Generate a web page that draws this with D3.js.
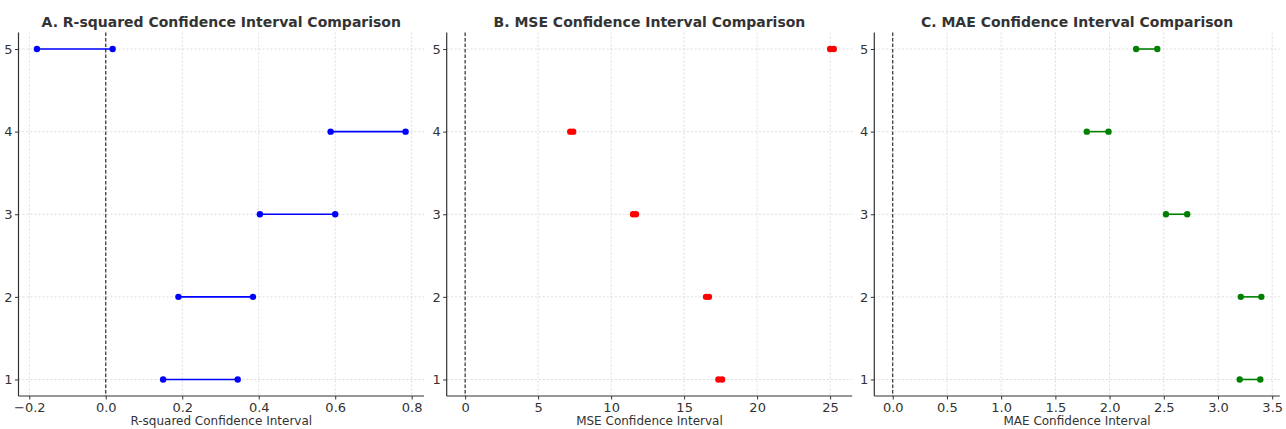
<!DOCTYPE html>
<html>
<head>
<meta charset="utf-8">
<script src="https://cdn.jsdelivr.net/npm/d3@7"></script>
<style>
  body { margin: 0; background: #fff; }
  svg { display: block; font-family: "DejaVu Sans", sans-serif; }
</style>
</head>
<body>
<svg id="chart" width="1286" height="429"></svg>
<script>
// Models on the y axis
const models = [1, 2, 3, 4, 5];

// Confidence interval bounds, one value per model (1..5)
const r2Lower = [0.15, 0.19, 0.403, 0.588, -0.18];
const r2Upper = [0.345, 0.385, 0.60, 0.784, 0.018];
const mseLower = [17.35, 16.5, 11.5, 7.2, 25.0];
const mseUpper = [17.6, 16.7, 11.7, 7.4, 25.25];
const maeLower = [3.2, 3.21, 2.52, 1.79, 2.245];
const maeUpper = [3.39, 3.40, 2.716, 1.99, 2.44];

// Tick values
const r2Ticks = [-0.2, 0.0, 0.2, 0.4, 0.6, 0.8];
const mseTicks = [0, 5, 10, 15, 20, 25];
const maeTicks = [0.0, 0.5, 1.0, 1.5, 2.0, 2.5, 3.0, 3.5];

const panels = [
  { title: 'A. R-squared Confidence Interval Comparison', xlabel: 'R-squared Confidence Interval',
    lo: r2Lower, hi: r2Upper, ticks: r2Ticks, fmt: d3.format('.1f'), color: 'blue', left: 18.5 },
  { title: 'B. MSE Confidence Interval Comparison', xlabel: 'MSE Confidence Interval',
    lo: mseLower, hi: mseUpper, ticks: mseTicks, fmt: d3.format('d'), color: 'red', left: 446.7 },
  { title: 'C. MAE Confidence Interval Comparison', xlabel: 'MAE Confidence Interval',
    lo: maeLower, hi: maeUpper, ticks: maeTicks, fmt: d3.format('.1f'), color: 'green', left: 874.3 }
];

const svg = d3.select('#chart');
const panelW = 405.5;
const plotTop = 32.5, plotBottom = 396;
const textColor = '#333';

panels.forEach(p => {
  const g = svg.append('g').attr('transform', `translate(${p.left},0)`);

  // matplotlib style autoscale: data extent plus the zero line, 5% margin
  const ext = d3.extent([0, ...p.lo, ...p.hi]);
  const pad = (ext[1] - ext[0]) * 0.05;
  const x = d3.scaleLinear().domain([ext[0] - pad, ext[1] + pad]).range([0, panelW]);
  const y = d3.scaleLinear().domain([0.8, 5.2]).range([plotBottom, plotTop]);

  // grid
  g.append('g').selectAll('line').data(p.ticks).join('line')
    .attr('x1', d => x(d)).attr('x2', d => x(d))
    .attr('y1', plotTop).attr('y2', plotBottom)
    .attr('stroke', '#d4d4d4').attr('stroke-width', 0.8).attr('stroke-dasharray', '2,2');
  g.append('g').selectAll('line').data(models).join('line')
    .attr('x1', 0).attr('x2', panelW)
    .attr('y1', d => y(d)).attr('y2', d => y(d))
    .attr('stroke', '#d4d4d4').attr('stroke-width', 0.8).attr('stroke-dasharray', '2,2');

  // zero reference line
  g.append('line')
    .attr('x1', x(0)).attr('x2', x(0))
    .attr('y1', plotTop).attr('y2', plotBottom)
    .attr('stroke', '#222').attr('stroke-width', 1.1).attr('stroke-dasharray', '3.5,2');

  // axes
  const xAxis = g.append('g').attr('transform', `translate(0,${plotBottom})`)
    .call(d3.axisBottom(x).tickValues(p.ticks).tickFormat(p.fmt).tickSizeOuter(0).tickSize(3.5).tickPadding(3));
  const yAxis = g.append('g')
    .call(d3.axisLeft(y).tickValues(models).tickFormat(d3.format('d')).tickSizeOuter(0).tickSize(3.5).tickPadding(2.5));
  [xAxis, yAxis].forEach(a => {
    a.select('.domain').attr('stroke', textColor).attr('stroke-width', 1.2);
    a.selectAll('.tick line').attr('stroke', textColor);
    a.selectAll('.tick text').attr('fill', textColor).attr('font-size', 13).attr('font-family', 'DejaVu Sans, sans-serif');
  });
  yAxis.select('.domain').attr('d', `M0,${plotTop}V${plotBottom}`);
  xAxis.select('.domain').attr('d', `M0,0H${panelW}`);

  // intervals
  models.forEach((m, i) => {
    g.append('line')
      .attr('x1', x(p.lo[i])).attr('x2', x(p.hi[i]))
      .attr('y1', y(m)).attr('y2', y(m))
      .attr('stroke', p.color).attr('stroke-width', 1.6);
    [p.lo[i], p.hi[i]].forEach(v => {
      g.append('circle').attr('cx', x(v)).attr('cy', y(m)).attr('r', 3.2).attr('fill', p.color);
    });
  });

  // title and label
  g.append('text')
    .attr('x', panelW / 2).attr('y', 27)
    .attr('text-anchor', 'middle').attr('font-size', 14).attr('font-weight', 'bold')
    .attr('fill', textColor).text(p.title);
  g.append('text')
    .attr('x', panelW / 2).attr('y', 425)
    .attr('text-anchor', 'middle').attr('font-size', 12)
    .attr('fill', textColor).text(p.xlabel);
});
</script>
</body>
</html>
